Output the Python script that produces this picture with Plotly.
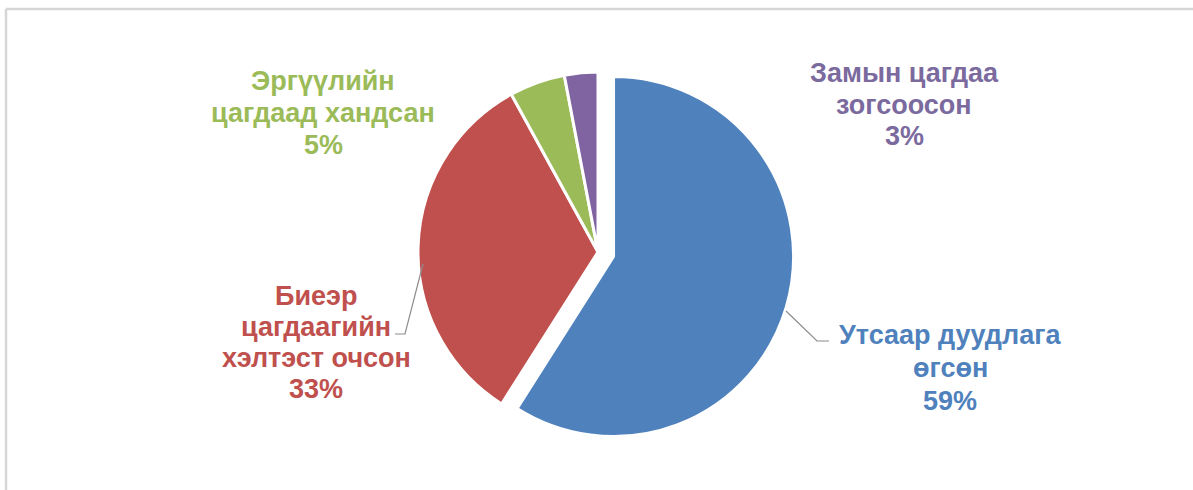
import plotly.graph_objects as go

# Data
categories = [
    "Утсаар дуудлага өгсөн",
    "Биеэр цагдаагийн хэлтэст очсон",
    "Эргүүлийн цагдаад хандсан",
    "Замын цагдаа зогсоосон",
]
shares = [59, 33, 5, 3]
label_lines = [
    ["Утсаар дуудлага", "өгсөн"],
    ["Биеэр", "цагдаагийн", "хэлтэст очсон"],
    ["Эргүүлийн", "цагдаад хандсан"],
    ["Замын цагдаа", "зогсоосон"],
]
colors = ["#4F81BD", "#C0504D", "#9BBB59", "#8064A2"]
text_colors = ["#4F81BD", "#C0504D", "#9BBB59", "#7B6A9E"]

W, H = 1193, 490


def px(x):
    return x / W


def py(y):
    return 1 - y / H


# Pie geometry (pixels): centre and radius of the un-pulled pie
CX, CY, R, PULL = 598, 252, 180, 0.09
half_box = R * (1 + PULL)

fig = go.Figure(
    go.Pie(
        labels=categories,
        values=shares,
        sort=False,
        direction="clockwise",
        rotation=0,
        pull=[PULL, 0, 0, 0],
        marker=dict(colors=colors, line=dict(color="white", width=3)),
        textinfo="none",
        hoverinfo="label+percent",
        showlegend=False,
        domain=dict(x=[px(CX - half_box), px(CX + half_box)],
                    y=[py(CY + half_box), py(CY - half_box)]),
        automargin=False,
    )
)

# Label lines: centre x and the y of each text line (pixels)
label_x = [950, 316, 323, 904]
label_y = [
    [335, 368, 401],
    [296, 327, 358, 389],
    [81, 113, 145],
    [73, 105, 136],
]
for lines, share, color, lx, ys in zip(label_lines, shares, text_colors, label_x, label_y):
    for text, ly in zip(lines + [f"{share}%"], ys):
        fig.add_annotation(
            x=px(lx), y=py(ly), xref="paper", yref="paper",
            text=text, showarrow=False,
            xanchor="center", yanchor="middle", align="center",
            font=dict(family="Liberation Sans, Arial", size=27, color=color, weight="bold"),
        )

# Leader lines
leaders = [
    [(829, 341), (817, 341), (786, 311)],
    [(395, 334), (405, 334), (423, 264)],
]
for pts in leaders:
    path = "M " + " L ".join(f"{px(x)},{py(y)}" for x, y in pts)
    fig.add_shape(type="path", path=path, xref="paper", yref="paper",
                  line=dict(color="#8C8C8C", width=1.2))

# Chart frame
fig.add_shape(type="line", xref="paper", yref="paper",
              x0=px(6), y0=py(9), x1=1, y1=py(9),
              line=dict(color="#D6D6D6", width=2.5))
fig.add_shape(type="line", xref="paper", yref="paper",
              x0=px(6), y0=py(9), x1=px(6), y1=0,
              line=dict(color="#D6D6D6", width=2.5))

fig.update_layout(
    width=W, height=H,
    margin=dict(l=0, r=0, t=0, b=0),
    paper_bgcolor="white",
    plot_bgcolor="white",
)

fig.write_html("out.html")
